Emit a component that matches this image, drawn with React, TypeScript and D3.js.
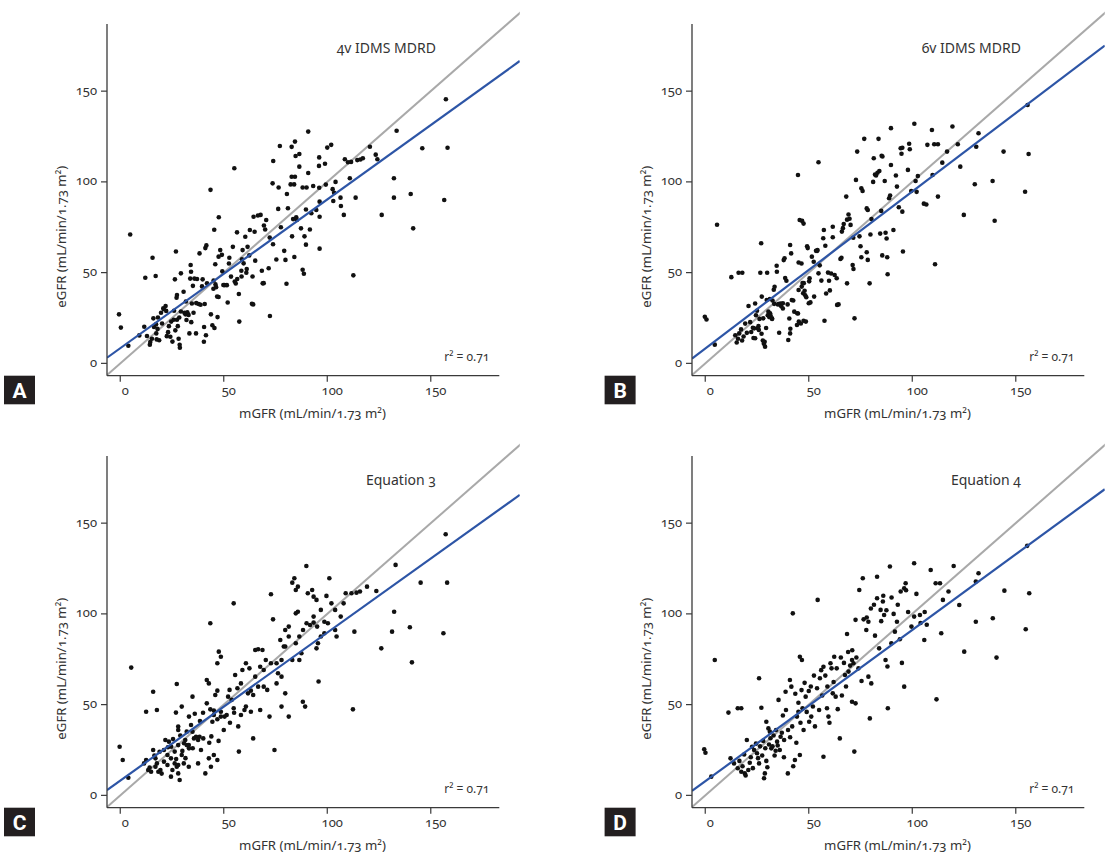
import React from "react";
import * as d3 from "d3";

type Pt = [number, number];

const panelLetters = ["A", "B", "C", "D"];
const panelTitles = ["4v IDMS MDRD", "6v IDMS MDRD", "Equation 3", "Equation 4"];
const xTicks = [0, 50, 100, 150];
const yTicks = [0, 50, 100, 150];
const fitSlopes = [0.82, 0.865, 0.816, 0.834];
const fitIntercepts = [8.35, 8.2, 8.1, 7.75];
const r2Values = ["0.71", "0.71", "0.71", "0.71"];
const xLabel = "mGFR (mL/min/1.73 m²)";
const yLabel = "eGFR (mL/min/1.73 m²)";

const mdrd4v: Pt[] = [
  [-0.6, 27], [0.3, 19.7], [3.9, 9.7], [4.8, 71], [9.2, 15.4], [11.6, 20.2], [12.1, 47.2], [12.9, 15.1], [14.3, 10.3], [14.5, 11.8],
  [15.3, 13.6], [15.6, 58.2], [16, 24.8], [16.3, 20], [17.1, 48.1], [17.3, 21.5], [17.4, 16.5], [17.6, 13.2], [18, 19], [18.2, 25.3],
  [18.8, 12.7], [19.7, 27.9], [20.2, 22], [20.8, 30.3], [21, 29.9], [21.9, 31.6], [22.2, 28.9], [22.5, 15], [23.1, 17.2], [23.5, 20.5],
  [24.2, 14.7], [24.6, 23], [25.2, 12], [25.8, 24], [26, 29], [26.4, 46.3], [26.6, 18.2], [26.9, 61.6], [27.2, 36.2], [27.4, 37.7],
  [27.4, 24], [27.8, 20.5], [28.2, 13.6], [28.5, 25.3], [28.7, 10.2], [28.8, 8.6], [29.3, 28.6], [29.3, 49.6], [30.6, 39.5], [31, 27.9],
  [31.5, 27], [31.7, 34.1], [32, 23.9], [32.4, 28.2], [33, 26.7], [33.4, 16.5], [33.8, 46.7], [34, 54.2], [34.2, 50.5], [34.3, 22.7],
  [34.6, 33], [35.1, 42.7], [35.4, 27.9], [35.8, 46.7], [36.6, 16.5], [36.7, 33.2], [37.1, 46.5], [37.9, 32.7], [38.3, 60.6], [38.8, 32.3],
  [39.5, 42.4], [39.8, 46.3], [40.4, 11.9], [40.5, 20], [40.8, 32.7], [41.1, 63.5], [41.4, 15.5], [41.6, 65], [41.9, 44.1], [43.6, 95.6],
  [43.8, 27], [44.5, 21], [45, 41.1], [45.1, 45.7], [45.4, 73.6], [45.5, 19.5], [45.9, 54.6], [46, 43.5], [46.3, 42], [46.8, 36.8],
  [47, 25.5], [47.5, 36.6], [47.6, 80.5], [47.5, 58.8], [48.3, 62.4], [49.1, 59.8], [49.3, 50.7], [49.8, 43.2], [50.3, 43.1], [51.5, 43.1],
  [51.9, 33.5], [52.5, 55], [52.7, 58.2], [53.5, 47.8], [54.4, 64.2], [55.1, 107.5], [55.3, 45.1], [55.8, 44], [56.4, 72.2], [56.5, 46.5],
  [57.3, 38.2], [57.5, 23], [58.5, 51], [58.6, 47.9], [58.8, 57.3], [59.1, 62.4], [59.6, 55.1], [60.4, 69.8], [60.9, 49.9], [61.1, 52],
  [61.5, 64.2], [62.3, 59.5], [62.6, 73.5], [63.6, 32.8], [63.9, 47.9], [64.2, 32.5], [64.4, 80.8], [64.9, 72.5], [65.2, 56.6], [66.5, 81.5],
  [67.8, 81.8], [68.4, 51], [68.8, 44.1], [69.3, 44.2], [69.4, 76], [70, 73.8], [70.5, 79], [71.7, 52.4], [72.2, 69.3], [72.3, 26.1],
  [73.6, 99.2], [73.8, 65.6], [73.9, 111.5], [75.4, 57.2], [76.3, 85.1], [76.5, 96.9], [77.1, 119.8], [77.6, 75], [79.2, 62], [79.8, 57],
  [80.3, 43.9], [80.5, 93.3], [81, 85.5], [82.3, 98.6], [82.8, 119.3], [82.8, 102.8], [83, 70], [83.5, 79.5], [84, 98.6], [84.1, 58.6],
  [84.4, 122.2], [84.4, 102.8], [84.7, 114.3], [85, 80.5], [85.3, 79], [86.5, 115.4], [86.5, 108.4], [87.3, 74.4], [88.1, 96.9], [88.1, 51.6],
  [88.7, 49.4], [89, 70], [89.7, 84.8], [89.7, 65.4], [90, 96.9], [90.8, 127.7], [90.8, 104.9], [91.6, 73.8], [92.3, 82.7], [93.2, 97.7],
  [94.7, 84.5], [96, 108.8], [96.1, 113.5], [96.1, 96.8], [96.3, 89.1], [96.3, 80.8], [96.3, 63.2], [98.9, 110], [99.3, 98.5], [100, 118.9],
  [101.9, 120.4], [102.6, 96], [102.9, 89.5], [103.3, 94], [104, 100], [106.4, 91.3], [106.6, 86.7], [108, 81.8], [108.5, 112.5], [110.9, 102],
  [110, 110.8], [111.5, 111], [112.6, 48.5], [113.7, 91.3], [114.5, 112], [116, 112.3], [117.2, 113], [120.6, 119.4], [123.4, 115], [124.2, 112.5],
  [126.3, 81.8], [132.2, 102], [132.2, 91.3], [133.5, 128.2], [140.3, 93.3], [141.5, 74.4], [145.9, 118.5], [156.5, 90], [157.3, 145.5], [158.1, 118.8],
];

const mdrd6v: Pt[] = [
  [-0.2, 25.7], [0.6, 24.2], [4.6, 10.3], [5.7, 76.4], [12.6, 47.5], [16.1, 49.9], [17.9, 49.9], [15.2, 11.5], [15.8, 13.6], [16.4, 16.5],
  [17.3, 18.7], [17.8, 12.6], [18.5, 14.8], [14.5, 15.5], [19.3, 21.9], [20.1, 16.8], [20.9, 31.6], [21.7, 22.7], [22.2, 17.3], [23, 19.6],
  [23.3, 14], [23.6, 19.3], [24.1, 13.8], [24.1, 33], [24.5, 26.5], [25, 29], [25.4, 19.3], [25.9, 18.4], [25.7, 20.5], [26.2, 24.5],
  [26.6, 49.9], [27, 66.2], [27.2, 16.3], [27.3, 36.8], [27.8, 12.6], [28, 24.8], [28.3, 10.8], [28.7, 11.9], [28.9, 9.2], [29.4, 19.5],
  [29.7, 34.9], [29.9, 49.9], [30.2, 26.5], [30.5, 28.5], [30.9, 25.5], [31.3, 27.6], [31.5, 26.5], [32.2, 24.8], [32.3, 24.5], [31.2, 35.5],
  [32.5, 34.6], [33.1, 40.6], [33.3, 32.8], [33.5, 42.2], [34.5, 53.8], [34.6, 50.5], [35.1, 32.4], [35.4, 32.7], [35.7, 16.9], [36.3, 33],
  [36.7, 31.5], [37.5, 30.2], [37.5, 33.1], [37.9, 56.9], [38.3, 57.9], [38.6, 47], [39.2, 45.5], [39.8, 32.5], [40.1, 12.9], [40.6, 24.7],
  [41, 65.2], [41.1, 19.1], [41.5, 60.6], [41, 16.5], [41.8, 34.9], [42.5, 34.6], [43, 28.5], [44.3, 21.1], [44.4, 27.6], [44.8, 103.8],
  [44.8, 27.5], [45.1, 55.6], [45.1, 40.4], [45.2, 23], [45.6, 79], [46.2, 22], [46.5, 55], [46.6, 42.3], [46.8, 78.5], [47.3, 38.6],
  [47.5, 77], [47, 44.3], [47.6, 44.2], [47.5, 23.5], [48, 40], [48.3, 37.5], [48.6, 23], [48.8, 36.4], [49.2, 64.5], [49.5, 63.5],
  [50, 33.1], [50.2, 45.2], [50.4, 46.9], [50.8, 33.6], [51.5, 58.8], [52.4, 56], [52.6, 36.8], [53.5, 62], [54.1, 62], [54.2, 62.4],
  [54.7, 110.8], [54.7, 49.6], [55.3, 54], [56.1, 45.6], [57, 68.9], [57.3, 73.5], [57.6, 23.5], [58, 64.8], [58.4, 38.5], [59.3, 50],
  [59.8, 45.5], [60.2, 40.2], [60.8, 49.5], [61.6, 69.5], [61.6, 75.3], [62.5, 48.7], [63.5, 46.9], [63.7, 32.2], [64.4, 32.5], [65.3, 57.5],
  [65.8, 58.2], [66, 72.6], [66.5, 74.5], [66.9, 76.8], [68.1, 91.9], [68.5, 44.1], [68.5, 79.2], [69.2, 82], [69.7, 79.7], [70.2, 76.3],
  [71.2, 54.2], [71.6, 52], [71.5, 69.2], [72.1, 24.8], [72.8, 101.1], [73.4, 116.7], [74.5, 70], [75, 64.5], [75.4, 58.5], [75.4, 96.5],
  [76, 95], [76.8, 123.7], [78, 85.4], [78.5, 84.5], [78, 61.2], [78.5, 57], [79.4, 44.1], [79.8, 71], [80.3, 79.5], [81.1, 100],
  [81.4, 113], [82, 104], [82.5, 103.5], [83.2, 105], [83.7, 123.7], [84.1, 106], [84.5, 71.5], [85.2, 114.4], [85.6, 114], [85.5, 59.5],
  [85, 84], [86.7, 100.5], [87.1, 72], [87.6, 68.8], [87.9, 58.5], [88.1, 49.1], [88.8, 91], [89.3, 92.5], [89.7, 109.3], [89.7, 129.6],
  [90.9, 73.5], [92.1, 103.5], [92.6, 97.4], [93.5, 86], [94.4, 118.5], [94.8, 115.5], [95.2, 118.8], [95.2, 83.6], [95.5, 61.6], [97.9, 106.6],
  [98.5, 121], [98.8, 118], [99.5, 95], [101, 132], [101.6, 100.5], [102.1, 94.5], [102.7, 103.2], [105.6, 88], [106.8, 87.5], [107.3, 120.4],
  [109.5, 128.6], [109.8, 103.8], [110.6, 120.7], [112.4, 120.7], [111, 54.6], [112.4, 91.9], [114.5, 110.6], [116.8, 116.7], [119.4, 130.5], [122, 120.7],
  [123.2, 108.4], [124.9, 81.8], [130.2, 98.7], [130.9, 119.4], [132, 126.8], [138.8, 100.5], [139.8, 78.6], [144.1, 116.7], [154.5, 94.6], [155.7, 142.4],
  [156.2, 115.4],
];

const equation3: Pt[] = [
  [-0.3, 26.8], [1.2, 19.5], [3.9, 9.7], [5.3, 70.4], [12.5, 46.1], [15.9, 57.1], [17.7, 47], [14.2, 15.3], [12.5, 19.5], [15.9, 25],
  [17, 20.4], [17.7, 17.6], [18.4, 13], [19.4, 14], [21.1, 18.6], [22.8, 16.7], [21.8, 30.5], [23.5, 29.6], [24.6, 26.8], [26.3, 17.6],
  [27.3, 15.8], [28, 12.1], [28.7, 8.5], [26.9, 45.6], [27.3, 61.4], [28, 37.9], [28, 36], [29.7, 48.9], [30.8, 28.7], [32.1, 27.7],
  [33.2, 25.9], [33.2, 43.4], [34.2, 38.8], [34.9, 54.4], [36.6, 32.3], [38.3, 32.3], [40.1, 31.4], [37.6, 17.6], [41.8, 50.7], [43.5, 47.4],
  [41.1, 12.1], [42.8, 20.4], [43.8, 15.8], [41.8, 63.6], [42.8, 61.7], [43.5, 94.8], [45.2, 46.7], [46.9, 41.9], [48.6, 43.4], [45.9, 55.3],
  [46.9, 57.7], [46.9, 72.8], [48.6, 76.4], [47.6, 79.2], [45.2, 22.2], [46.9, 19.5], [51.4, 44.3], [53.8, 52.6], [54.8, 105.8], [55.5, 66.3],
  [57.3, 24.1], [58.3, 44.3], [60, 47], [60.7, 72.8], [62.4, 70], [63.1, 57.7], [64.2, 55.3], [65.2, 80.1], [66.6, 80.5], [68.7, 80.1],
  [64.2, 31.4], [67.6, 47], [69.3, 59.9], [72.1, 43.4], [74.5, 25], [72.8, 110.8], [73.8, 97], [77.3, 85.6], [79, 82], [77.9, 65.4],
  [79.7, 56.2], [81.4, 43.4], [83.1, 117.2], [84.1, 119.6], [84.8, 100.3], [85.8, 101.2], [86.5, 74.6], [87.5, 78.3], [88.2, 51.6], [89.3, 48.9],
  [89.9, 126.4], [90.6, 111.4], [92.7, 113.2], [93.4, 95.2], [94.8, 81], [95.5, 83.8], [95.8, 62.7], [96.9, 102.2], [98.6, 95.7], [99.6, 109.9],
  [101, 119.6], [103.8, 91.1], [104.5, 87.5], [106.5, 98.5], [107.9, 105.8], [108.9, 111.4], [111.7, 111.4], [114.1, 111.7], [112.4, 47.4], [113.1, 90.2],
  [115.8, 112.3], [119.2, 115], [123.7, 112.6], [126.1, 81], [132.3, 101.2], [131.3, 90.2], [133, 127], [139.9, 92.6], [140.9, 73.3], [145.1, 117.2],
  [156.1, 89.3], [157.2, 143.9], [157.9, 117.2],
  [11.5, 17.6], [13.5, 14], [14.9, 13], [17, 15.8], [21.1, 25], [22.8, 22.2], [24.5, 20.4], [25.2, 14], [26.3, 24.1], [28, 27.7],
  [29.7, 22.2], [31.4, 30.5], [33.1, 27.7], [35.6, 31.4], [37.6, 30.5], [39, 25], [32.1, 35.1], [34.9, 35.1], [30.7, 17.6], [33.1, 15.8],
  [28, 16.7], [24.5, 10.3], [44.5, 40.6], [45.2, 44.3], [48.6, 46.1], [50.4, 43.4], [52.1, 54.4], [52.8, 58.1], [54.8, 48], [56.6, 59],
  [58.3, 61.7], [59, 69.1], [60.7, 48.9], [61.7, 56.2], [63.1, 46.1], [65.2, 65.4], [66.6, 59.9], [67.6, 70.9], [69.3, 69.1], [70.3, 74.6],
  [71, 58.1], [72.8, 72.8], [75.5, 72.8], [76.2, 67.3], [77.9, 74.6], [79.7, 82], [81.4, 87.5], [83.1, 74.6], [84.8, 83.8], [86.5, 87.5],
  [88.3, 91.1], [90, 94.8], [91.7, 93.9], [93.4, 98.5], [95.1, 93], [96.9, 87.5], [98.6, 89.3], [100.3, 94.8], [102, 105.8], [103.8, 102.2],
  [84.8, 113.2], [85.8, 115], [93.4, 109.5], [94.8, 107.7], [79.7, 91.1], [81.4, 93], [75.5, 61.7], [77.9, 48.9],
  [16.5, 22], [19, 24], [20, 12], [23, 26.5], [25.5, 31], [27, 20], [29, 33], [30, 24.5], [31.5, 20.5], [35, 26],
  [36, 45], [38.5, 41], [40, 45.5], [43, 29], [44, 32.5], [47.5, 30], [50, 36], [53, 40], [55, 45.5], [57, 38],
];

const equation4: Pt[] = [
  [-0.5, 25.4], [0.1, 23.5], [2.9, 10.3], [4.6, 74.6], [11.2, 45.6], [15.7, 48], [17.4, 48], [12.2, 20.4], [13.9, 17.6], [15.7, 14.9],
  [17.4, 13], [19.1, 12.1], [20.8, 14], [20.1, 30.5], [22.6, 26.8], [23.6, 25], [25, 23.2], [26, 17.6], [26, 64.5], [27.1, 48.3],
  [28.4, 9.4], [28.8, 12.1], [29.5, 40.6], [30.5, 36.9], [31.2, 35.1], [31.9, 25.9], [34, 24.6], [34.7, 29.6], [35.4, 52.6], [36.4, 32.3],
  [38.1, 30.5], [38.8, 57.1], [39.9, 12.1], [40.9, 63.6], [41.6, 59.9], [42.3, 100.3], [43.3, 19.5], [44.3, 43.4], [45, 46.1], [45.7, 76.4],
  [46.7, 74.6], [45.7, 22.2], [48.5, 54.4], [50.2, 40.6], [51.2, 43.4], [54.3, 107.7], [55.4, 64.5], [57.1, 70.9], [57.1, 21.3], [58.8, 48],
  [59.5, 43.4], [60.5, 72.8], [62.3, 76.4], [61.6, 56.2], [63, 54.4], [65, 31.4], [67.5, 66.3], [69.2, 68.2], [68.5, 88.9], [70.9, 74.6],
  [71.6, 72.8], [70.9, 51.6], [72.6, 50.7], [72, 24.1], [72.6, 96.7], [74.4, 113.2], [76.1, 119.6], [77.8, 91.1], [78.8, 95.7], [78.8, 65.4],
  [80.2, 61.7], [79.5, 42.4], [83, 120.5], [83, 108.6], [84.7, 102.2], [85.8, 106.8], [86.4, 99.4], [87.1, 74.6], [88.2, 48], [89.2, 126.1],
  [89.9, 83.8], [91.6, 90.2], [92.6, 95.7], [94.4, 112.3], [96.1, 114.1], [96.8, 116.9], [96.1, 59.9], [99.6, 93], [100.9, 98.5], [100.9, 127.9],
  [103.7, 99.4], [105.8, 85.6], [108.9, 124.2], [111.3, 116.9], [113.4, 116.9], [111.7, 52.9], [114, 89.3], [114.8, 107.7], [117.5, 112.3], [120, 126.4],
  [122.7, 104.9], [125.1, 79.2], [130.7, 117.8], [132, 122.4], [130.7, 95.7], [138.9, 97.6], [140.7, 75.9], [144.5, 112.8], [154.8, 91.5], [155.5, 137.5],
  [156.5, 111.4],
  [16.5, 19], [18, 16], [18.8, 22.5], [19.5, 11], [21.5, 18], [22, 21], [23, 15], [24.5, 28.5], [25.5, 20.5], [26.5, 27],
  [27.5, 22], [28, 30], [29, 26], [29.5, 19], [30, 15.5], [30.8, 28], [31.5, 31.5], [32.5, 27], [33, 33], [33.5, 22],
  [34.2, 36], [35, 27.5], [36, 25], [37, 34.5], [37.5, 44], [38, 21], [39, 47], [40, 36], [41, 32], [42, 38],
  [42.5, 16], [43.5, 56], [44, 29], [45, 51], [46, 40], [46.5, 58], [47, 48], [47.5, 36], [48, 62], [49, 46],
  [50, 57.5], [51, 60], [52, 49], [52.5, 66], [53, 38], [54, 59], [55, 47], [56, 69], [56.5, 55], [58, 66],
  [59, 60], [60, 40], [61, 70], [62, 62.5], [63.5, 70], [64, 47.5], [65.5, 76], [66, 55], [67, 73], [68, 60],
  [69, 79], [70, 71.5], [71, 80], [73, 76], [74, 70], [75.5, 63], [76.5, 97], [78, 98], [80, 103], [81.5, 105],
  [82, 88], [84, 81], [85, 96], [86, 110], [87.5, 102], [88, 71], [90, 109], [91, 100], [93, 105], [94, 86],
  [95, 73], [97, 113], [98, 101], [102, 111], [104, 95], [106, 101], [107, 94],
];

const panelData: Pt[][] = [mdrd4v, mdrd6v, equation3, equation4];

const FONT = "'Noto Sans', 'Open Sans', sans-serif";
const PANEL_OFFSETS: Pt[] = [[0, 0], [585, 0], [0, 432], [585, 432]];
const X0 = 107, X1 = 499.3, Y0 = 375.7, Y1 = 24;

function Panel({ idx }: { idx: number }) {
  const [ox, oy] = PANEL_OFFSETS[idx];
  const x = d3.scaleLinear().domain([-6.4, 183.1]).range([X0, X1]);
  const y = d3.scaleLinear().domain([-6.8, 187]).range([Y0, Y1]);
  const line = d3.line<Pt>().x((d) => x(d[0])).y((d) => y(d[1]));
  const lineEnd = 193;
  const identity: Pt[] = [[-6.5, -6.5], [200, 200]];
  const fit: Pt[] = [-6.4, lineEnd].map((v) => [v, fitIntercepts[idx] + fitSlopes[idx] * v] as Pt);
  const clipId = `clip-${idx}`;
  const numStyle: React.CSSProperties = { fontVariantNumeric: "oldstyle-nums" };
  const badgeShift = idx % 2 === 1 ? 15.6 : 0;
  return (
    <g transform={`translate(${ox},${oy})`}>
      <defs>
        <clipPath id={clipId}>
          <rect x={X0} y={0} width={x(lineEnd) - X0} height={Y0} />
        </clipPath>
      </defs>
      <g clipPath={`url(#${clipId})`}>
        <path d={line(identity) || ""} stroke="#a9a9a9" strokeWidth={2} fill="none" />
      </g>
      {panelData[idx].map((d, i) => (
        <circle key={i} cx={x(d[0])} cy={y(d[1])} r={2.3} fill="#111" />
      ))}
      <g clipPath={`url(#${clipId})`}>
        <path d={line(fit) || ""} stroke="#2d55a6" strokeWidth={2.2} fill="none" />
      </g>
      <line x1={X0} x2={X0} y1={Y1} y2={Y0} stroke="#3a3a3a" strokeWidth={1.3} />
      <line x1={X0} x2={X1} y1={Y0} y2={Y0} stroke="#3a3a3a" strokeWidth={1.3} />
      {yTicks.map((t) => (
        <g key={`y${t}`}>
          <line x1={X0 - 6} x2={X0} y1={y(t)} y2={y(t)} stroke="#3a3a3a" strokeWidth={1.2} />
          <text x={X0 - 10} y={y(t) + 3.5} textAnchor="end" fontSize={13} fill="#333" fontFamily={FONT} style={numStyle}>
            {t}
          </text>
        </g>
      ))}
      {xTicks.map((t) => (
        <g key={`x${t}`}>
          <line x1={x(t)} x2={x(t)} y1={Y0} y2={Y0 + 6} stroke="#3a3a3a" strokeWidth={1.2} />
          <text x={x(t) + 5} y={395} textAnchor="middle" fontSize={13} fill="#333" fontFamily={FONT} style={numStyle}>
            {t}
          </text>
        </g>
      ))}
      <text x={312.5} y={418} textAnchor="middle" fontSize={13.2} fill="#333" fontFamily={FONT} style={numStyle}>
        {xLabel}
      </text>
      <text transform={`translate(${66},${236.7}) rotate(-90)`} textAnchor="middle" fontSize={13.2} fill="#333" fontFamily={FONT} style={numStyle}>
        {yLabel}
      </text>
      <text x={x(152.5)} y={53} textAnchor="end" fontSize={14} fill="#333" fontFamily={FONT} style={numStyle}>
        {panelTitles[idx]}
      </text>
      <text x={x(178.3)} y={360.7} textAnchor="end" fontSize={12} fill="#333" fontFamily={FONT} style={numStyle}>
        {`r² = ${r2Values[idx]}`}
      </text>
      <rect x={4 + badgeShift} y={375.7} width={31} height={28.6} fill="#231f20" />
      <text
        x={19.5 + badgeShift}
        y={397.5}
        textAnchor="middle"
        fontSize={21}
        fontWeight={700}
        fill="#fff"
        fontFamily="'Liberation Sans Narrow', 'Roboto', sans-serif"
      >
        {panelLetters[idx]}
      </text>
    </g>
  );
}

export default function App() {
  return (
    <svg
      width={1120}
      height={859}
      viewBox="0 0 1120 859"
      style={{ position: "absolute", left: 0, top: 0, background: "#fff" }}
    >
      <rect x={0} y={0} width={1120} height={859} fill="#fff" />
      {[0, 1, 2, 3].map((i) => (
        <Panel key={i} idx={i} />
      ))}
    </svg>
  );
}
